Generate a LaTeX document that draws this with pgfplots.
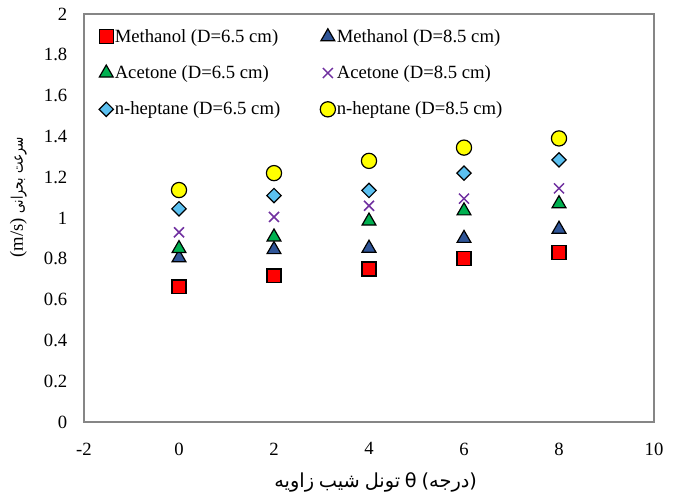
\documentclass[border=0pt]{standalone}
\usepackage{fontspec}
\setmainfont{Liberation Serif}
\newfontfamily\arabicfont[Script=Arabic]{DejaVu Sans}
\newfontfamily\arabicnarrow[Script=Arabic, FakeStretch=0.76]{DejaVu Sans}
\newfontfamily\dvs{DejaVu Sans}
\usepackage{pgfplots}
\pgfplotsset{compat=1.18}
\definecolor{axcol}{RGB}{134,134,134}
\definecolor{mred}{RGB}{255,0,0}
\definecolor{mnavy}{RGB}{47,85,151}
\definecolor{mgreen}{RGB}{0,176,80}
\definecolor{mpurple}{RGB}{112,48,160}
\definecolor{mlblue}{RGB}{91,192,240}
\definecolor{myellow}{RGB}{255,255,0}
\newcommand{\aw}[1]{\hbox{\arabicfont #1}}
\newcommand{\an}[1]{\hbox{\arabicnarrow\fontsize{12}{14}\selectfont #1}}
\begin{document}
\begin{tikzpicture}
\useasboundingbox (-63pt,-54.75pt) rectangle (445.5pt,316.5pt);
\begin{axis}[
  at={(0,0)}, anchor=south west,
  scale only axis, width=427.5pt, height=306pt,
  xmin=-2, xmax=10, ymin=0, ymax=2,
  xtick={-2,0,...,10}, ytick={0,0.2,...,2.01},
  major tick length=0pt,
  axis line style={axcol, line width=0.8pt},
  /pgf/number format/assume math mode=true,
  tick label style={font=\fontsize{14}{16}\selectfont},
  yticklabel style={xshift=-9pt},
  xticklabel style={yshift=-12pt},
  legend style={draw=none, fill=none, at={(0.019,0.973)}, anchor=north west,
    font=\fontsize{14}{16}\selectfont, row sep=14pt,
    nodes={inner sep=1pt},
    /tikz/every even column/.append style={column sep=29pt}},
  legend columns=2, legend cell align=left,
  legend image code/.code={\draw[#1] plot coordinates {(0pt,0pt)};},
  xlabel={\fontsize{14.5}{16}\selectfont\aw{زاویه}\ \aw{شیب}\ \aw{تونل}\ \hbox{\dvs θ}\ \hbox{\dvs(}\aw{درجه}\hbox{\dvs)}},
  xlabel style={yshift=-6pt, xshift=5pt},
  ylabel={\fontsize{14}{16}\selectfont\hbox{(m/s)}\ \an{بحرانی}\ \an{سرعت}},
  ylabel style={at={(ticklabel cs:0.55)}, yshift=6pt},
  clip=false,
]
\addplot[only marks, mark=square*, mark size=5.2pt, mark options={fill=mred, draw=black, line width=0.9pt}]
  coordinates {(0,0.662) (2,0.716) (4,0.750) (6,0.800) (8,0.830)};
\addlegendentry{Methanol (D=6.5 cm)}
\addplot[only marks, mark=triangle*, mark size=6pt, mark options={fill=mnavy, draw=black, line width=0.9pt}]
  coordinates {(0,0.805) (2,0.845) (4,0.852) (6,0.900) (8,0.945)};
\addlegendentry{Methanol (D=8.5 cm)}
\addplot[only marks, mark=triangle*, mark size=6pt, mark options={fill=mgreen, draw=black, line width=0.9pt}]
  coordinates {(0,0.850) (2,0.907) (4,0.985) (6,1.035) (8,1.070)};
\addlegendentry{Acetone (D=6.5 cm)}
\addplot[only marks, mark=x, mark size=5.3pt, mark options={draw=mpurple, line width=1.1pt}]
  coordinates {(0,0.930) (2,1.005) (4,1.060) (6,1.095) (8,1.145)};
\addlegendentry{Acetone (D=8.5 cm)}
\addplot[only marks, mark=square*, mark size=3.8pt, mark options={rotate=45, fill=mlblue, draw=black, line width=0.9pt}]
  coordinates {(0,1.045) (2,1.110) (4,1.135) (6,1.220) (8,1.285)};
\addlegendentry{n-heptane (D=6.5 cm)}
\addplot[only marks, mark=*, mark size=5.7pt, mark options={fill=myellow, draw=black, line width=0.9pt}]
  coordinates {(0,1.137) (2,1.220) (4,1.280) (6,1.345) (8,1.390)};
\addlegendentry{n-heptane (D=8.5 cm)}
\end{axis}
\end{tikzpicture}
\end{document}
